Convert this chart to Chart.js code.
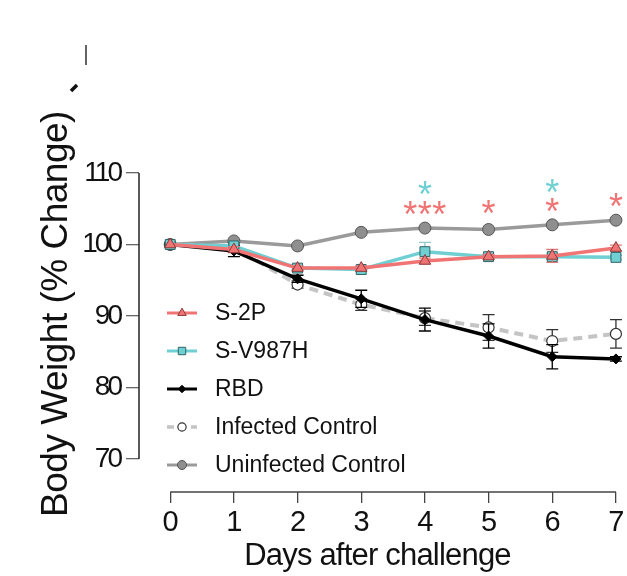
<!DOCTYPE html>
<html>
<head>
<meta charset="utf-8">
<script src="https://cdn.jsdelivr.net/npm/chart.js@4/dist/chart.umd.min.js"></script>
<style>
  html, body { margin: 0; padding: 0; background: #fff; }
  #wrap { width: 627px; height: 576px; position: relative; }
</style>
</head>
<body>
<div id="wrap"><canvas id="weight"></canvas></div>
<script>
// body weight, % of day 0
const days = [0, 1, 2, 3, 4, 5, 6, 7];
const seriesNames = ['S-2P', 'S-V987H', 'RBD', 'Infected Control', 'Uninfected Control'];
const s2p        = [100, 99.3, 96.7, 96.7, 97.7, 98.3, 98.4, 99.5];
const sv987h     = [100, 99.8, 96.7, 96.5, 99.0, 98.3, 98.3, 98.2];
const rbd        = [100, 99.1, 95.2, 92.4, 89.5, 87.2, 84.3, 84.0];
const infected   = [100, 99.6, 94.4, 91.6, 89.7, 88.4, 86.5, 87.5];
const uninfected = [100, 100.5, 99.8, 101.7, 102.3, 102.1, 102.75, 103.4];

// error bars (+/-)
const errS2p   = [0, 0.4, 0.3, 0.3, 0.4, 0.3, 0.9, 0.4];
const errSv    = [0, 0.6, 0.3, 0.3, 1.3, 0.3, 0.4, 0.3];
const errRbd   = [0, 0.8, 0.5, 1.2, 1.6, 1.7, 1.7, 0.3];
const errInf   = [0, 0.7, 0.5, 0.8, 1.0, 1.8, 1.6, 2.0];
const errUninf = [0, 0, 0, 0, 0, 0, 0, 0];

const xTicks = [0, 1, 2, 3, 4, 5, 6, 7];
const yTicks = [70, 80, 90, 100, 110];

// significance marks
const starDay   = [4, 4, 5, 6, 6, 7];
const starValue = [108.0, 105.2, 105.4, 108.3, 105.7, 106.4];
const starText  = ['*', '***', '*', '*', '*', '*'];
const starColor = ['#6fd0d3', '#f07474', '#f07474', '#6fd0d3', '#f07474', '#f07474'];

const RED = '#f07474', CYAN = '#6fcfd2';
const errColors = ['#e07a7a', '#8fc9cc', '#000', '#333', '#555'];
const errors = [errS2p, errSv, errRbd, errInf, errUninf];

const pts = arr => days.map((d, i) => ({x: d, y: arr[i]}));

const datasets = [
  {label: seriesNames[0], data: pts(s2p), borderColor: RED, borderWidth: 3.5,
   pointStyle: 'triangle', pointRadius: 6.5, pointBackgroundColor: RED,
   pointBorderColor: '#8a3a3a', pointBorderWidth: 1},
  {label: seriesNames[1], data: pts(sv987h), borderColor: CYAN, borderWidth: 3.5,
   pointStyle: 'rect', pointRadius: 7, pointBackgroundColor: CYAN,
   pointBorderColor: '#2f6466', pointBorderWidth: 1},
  {label: seriesNames[2], data: pts(rbd), borderColor: '#000', borderWidth: 3.5,
   pointStyle: 'rectRot', pointRadius: 5, pointBackgroundColor: '#000',
   pointBorderColor: '#000', pointBorderWidth: 1},
  {label: seriesNames[3], data: pts(infected), borderColor: '#c4c4c4', borderWidth: 4,
   borderDash: [9, 6], pointStyle: 'circle', pointRadius: 5.5,
   pointBackgroundColor: '#fff', pointBorderColor: '#333', pointBorderWidth: 1.2},
  {label: seriesNames[4], data: pts(uninfected), borderColor: '#9a9a9a', borderWidth: 3.5,
   pointStyle: 'circle', pointRadius: 6, pointBackgroundColor: '#8f8f8f',
   pointBorderColor: '#555', pointBorderWidth: 1},
].map(d => Object.assign(d, {clip: false, tension: 0, fill: false}));

const FONT = "'Liberation Sans', Arial, sans-serif";

const extras = {
  id: 'extras',
  beforeDraw(chart) {
    chart.ctx.letterSpacing = '-3px';   // y tick labels are set tight
  },
  beforeDatasetsDraw(chart) {
    const {ctx, scales: {x, y}} = chart;
    ctx.letterSpacing = '0px';
    ctx.save();
    ctx.lineWidth = 1.5;
    ctx.strokeStyle = '#222';
    ctx.beginPath();
    ctx.moveTo(y.right, y.getPixelForValue(yTicks[0]));
    ctx.lineTo(y.right, y.getPixelForValue(yTicks[yTicks.length - 1]));
    ctx.stroke();
    ctx.strokeStyle = '#444';
    ctx.beginPath();
    ctx.moveTo(x.getPixelForValue(xTicks[0]), x.top);
    ctx.lineTo(x.getPixelForValue(xTicks[xTicks.length - 1]), x.top);
    ctx.stroke();
    ctx.restore();
  },
  beforeDatasetDraw(chart, args) {
    const {ctx, scales: {y}} = chart;
    const err = errors[args.index];
    ctx.save();
    ctx.strokeStyle = errColors[args.index];
    ctx.lineWidth = 1.3;
    args.meta.data.forEach((pt, i) => {
      if (!err[i]) return;
      const v = chart.data.datasets[args.index].data[i].y;
      const top = y.getPixelForValue(v + err[i]);
      const bot = y.getPixelForValue(v - err[i]);
      ctx.beginPath();
      ctx.moveTo(pt.x, top); ctx.lineTo(pt.x, bot);
      ctx.moveTo(pt.x - 6, top); ctx.lineTo(pt.x + 6, top);
      ctx.moveTo(pt.x - 6, bot); ctx.lineTo(pt.x + 6, bot);
      ctx.stroke();
    });
    ctx.restore();
  },
  afterDatasetsDraw(chart) {
    chart.ctx.letterSpacing = '-0.8px';  // x ticks + title drawn after this
  },
  afterDraw(chart) {
    const {ctx, scales: {x, y}} = chart;
    ctx.save();
    ctx.letterSpacing = '0px';

    // asterisks
    ctx.font = '36px ' + FONT;
    ctx.textAlign = 'center';
    ctx.textBaseline = 'alphabetic';
    starDay.forEach((d, i) => {
      ctx.fillStyle = starColor[i];
      ctx.letterSpacing = starText[i].length > 1 ? '0.5px' : '0px';
      ctx.fillText(starText[i], x.getPixelForValue(d), y.getPixelForValue(starValue[i]) + 20);
    });
    ctx.letterSpacing = '0px';

    // legend inside the plot
    const lx0 = 167, lx1 = 197, ltop = 313, lstep = 38;
    chart.data.datasets.forEach((ds, i) => {
      const ly = ltop + i * lstep;
      ctx.save();
      ctx.strokeStyle = ds.borderColor;
      ctx.lineWidth = ds.borderWidth - 0.5;
      ctx.setLineDash(ds.borderDash ? [7, 5] : []);
      ctx.beginPath();
      ctx.moveTo(lx0, ly); ctx.lineTo(lx1, ly);
      ctx.stroke();
      ctx.setLineDash([]);
      ctx.fillStyle = ds.pointBackgroundColor;
      ctx.strokeStyle = ds.pointBorderColor;
      ctx.lineWidth = ds.pointBorderWidth;
      Chart.helpers.drawPoint(ctx, {pointStyle: ds.pointStyle, radius: ds.pointRadius * 0.75,
        rotation: 0, borderWidth: ds.pointBorderWidth}, (lx0 + lx1) / 2, ly);
      ctx.restore();
      ctx.fillStyle = '#111';
      ctx.font = '23px ' + FONT;
      ctx.textAlign = 'left';
      ctx.textBaseline = 'middle';
      ctx.fillText(ds.label, 215, ly + 1);
    });

    // y axis title
    ctx.save();
    ctx.translate(67, 314);
    ctx.rotate(-Math.PI / 2);
    ctx.font = '37px ' + FONT;
    ctx.letterSpacing = '-0.5px';
    ctx.fillStyle = '#111';
    ctx.textAlign = 'center';
    ctx.textBaseline = 'alphabetic';
    ctx.fillText('Body Weight (% Change)', 0, 0);
    ctx.restore();

    // cropped remnants at the top-left of the panel
    ctx.strokeStyle = '#111';
    ctx.lineWidth = 1.3;
    ctx.beginPath();
    ctx.moveTo(86, 45); ctx.lineTo(86, 65);
    ctx.stroke();
    ctx.lineWidth = 3.5;
    ctx.beginPath();
    ctx.moveTo(71, 91); ctx.lineTo(77, 85);
    ctx.stroke();
    ctx.restore();
  }
};

new Chart(document.getElementById('weight'), {
  type: 'line',
  data: {datasets},
  options: {
    responsive: true,
    maintainAspectRatio: false,
    animation: false,
    layout: {padding: {top: 173, right: 10, left: 0, bottom: 0}},
    plugins: {legend: {display: false}, tooltip: {enabled: false}},
    scales: {
      x: {
        type: 'linear',
        min: -0.49,
        max: 7,
        afterBuildTicks: s => { s.ticks = xTicks.map(v => ({value: v})); },
        afterFit: s => { s.height = 84; },
        border: {display: false, z: 1},
        grid: {drawOnChartArea: false, tickLength: 11, color: '#444', lineWidth: 1.3, z: 1},
        ticks: {z: 1, autoSkip: false, maxRotation: 0, padding: 3, color: '#111',
                font: {size: 29, family: FONT}},
        title: {display: true, text: 'Days after challenge', color: '#111',
                padding: {top: 0, bottom: 1},
                font: {size: 31, family: FONT}}
      },
      y: {
        type: 'linear',
        min: 65.385,
        max: 110,
        afterBuildTicks: s => { s.ticks = yTicks.map(v => ({value: v})); },
        afterFit: s => { s.width = 139; },
        border: {display: false},
        grid: {drawOnChartArea: false, tickLength: 13, color: '#666', lineWidth: 1.3},
        ticks: {autoSkip: false, padding: 6, color: '#111',
                font: {size: 28, family: FONT}}
      }
    }
  },
  plugins: [extras]
});
</script>
</body>
</html>
